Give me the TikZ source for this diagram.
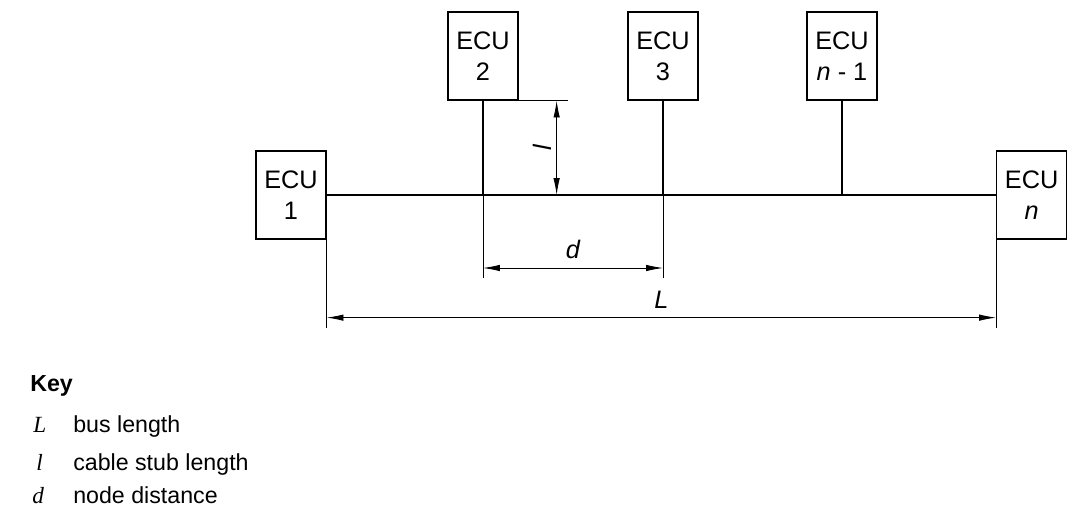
\documentclass[tikz,border=0pt]{standalone}
\usepackage{fontspec}
\setmainfont{Liberation Sans}
\newfontfamily\keyfont{Liberation Serif}
\usetikzlibrary{arrows.meta}

\begin{document}
\begin{tikzpicture}[
    ecu/.style={draw,line width=0.9pt,minimum width=1.75cm,minimum height=2.2cm,inner sep=0pt,align=center,font=\fontsize{18}{22}\selectfont},
    bus/.style={line width=1.4pt},
    dim/.style={line width=0.6pt},
    dimarrow/.style={dim,{Latex[length=4.2mm,width=1.6mm]}-{Latex[length=4.2mm,width=1.6mm]}},
    dimlab/.style={font=\fontsize{18}{22}\selectfont\itshape},
    keyrow/.style={anchor=base west,inner sep=0pt,font=\fontsize{16.5}{19}\selectfont}]
    \useasboundingbox (0,0) rectangle (27,13.05);
    % the control units
    \node[ecu] (ecu1) at (7.275,8.175) {ECU\\1};
    \node[ecu] (ecu2) at (12.075,11.65) {ECU\\2};
    \node[ecu] (ecu3) at (16.575,11.65) {ECU\\3};
    \node[ecu] (ecum) at (21.05,11.65) {ECU\\\textit{n} - 1};
    \node[ecu] (ecun) at (25.79,8.175) {ECU\\\textit{n}};
    % bus and stubs
    \draw[bus] (ecu1.east) -- (ecun.west);
    \foreach \u in {ecu2,ecu3,ecum}
        \draw[bus] (\u.south) -- (\u.south |- ecu1.east);
    % stub length l
    \coordinate (lend) at ([xshift=1.225cm]ecu2.south east);
    \draw[dim] (ecu2.south east) -- (lend);
    \coordinate (ltop) at ([xshift=-0.275cm]lend);
    \draw[dimarrow] (ltop) -- node[midway,rotate=90,above,dimlab] (llab) {l} (ltop |- ecu1.east);
    % node distance d
    \coordinate (d2) at ([yshift=-2.075cm]ecu2.south |- ecu1.east);
    \coordinate (d3) at (ecu3.south |- d2);
    \draw[dim] (ecu2.south |- ecu1.east) -- (d2);
    \draw[dim] (ecu3.south |- ecu1.east) -- (d3);
    \draw[dimarrow] ([yshift=0.25cm]d2) -- node[above=1mm,dimlab] (dlab) {d} ([yshift=0.25cm]d3);
    % bus length L
    \coordinate (L1) at ([yshift=-2.2cm]ecu1.south east);
    \coordinate (Ln) at (ecun.south west |- L1);
    \draw[dim] (ecu1.south east) -- (L1);
    \draw[dim] (ecun.south west) -- (Ln);
    \draw[dimarrow] ([yshift=0.25cm]L1) -- node[above=1mm,dimlab] (Llab) {L} ([yshift=0.25cm]Ln);
    % key
    \node[keyrow,font=\fontsize{16.5}{19}\selectfont\bfseries] (key) at (0.75,3.25) {Key};
    \node[keyrow] (keyL) at (0.825,2.225) {\keyfont\itshape L};
    \node[keyrow] (keyl) at (0.9,1.3) {\keyfont\itshape l};
    \node[keyrow] (keyd) at (0.8,0.475) {\keyfont\itshape d};
    \node[keyrow] (txtL) at (1.825,2.225) {bus length};
    \node[keyrow] (txtl) at (1.825,1.3) {cable stub length};
    \node[keyrow] (txtd) at (1.825,0.475) {node distance};
\end{tikzpicture}
\end{document}
